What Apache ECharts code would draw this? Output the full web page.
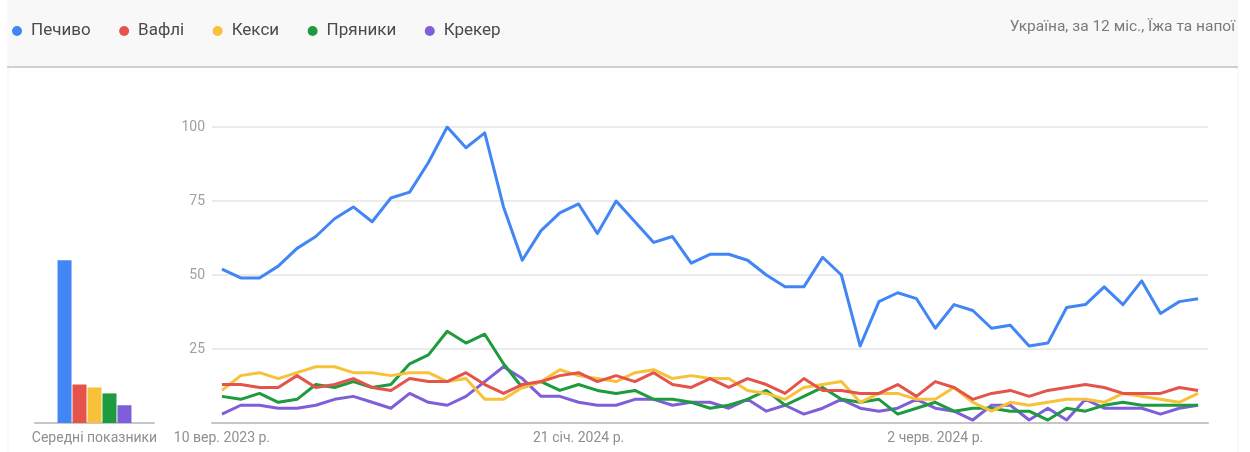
<!DOCTYPE html>
<html lang="uk">
<head>
<meta charset="utf-8">
<title>Печиво, Вафлі, Кекси, Пряники, Крекер</title>
<script src="https://cdn.jsdelivr.net/npm/echarts@6/dist/echarts.min.js"></script>
<style>
  html, body { margin: 0; padding: 0; background: #ffffff; }
  #chart { width: 1250px; height: 452px; }
</style>
</head>
<body>
<div id="chart"></div>
<script>
// Weekly interest, 53 weeks starting 10 Sep 2023
const seriesNames = ['Печиво', 'Вафлі', 'Кекси', 'Пряники', 'Крекер'];
const colors = ['#4285f4', '#e5544b', '#f7c13a', '#1d9b3e', '#7f5fd9'];

const pechyvo = [52,49,49,53,59,63,69,73,68,76,78,88,100,93,98,73,55,65,71,74,64,75,68,61,63,54,57,57,55,50,46,46,56,50,26,41,44,42,32,40,38,32,33,26,27,39,40,46,40,48,37,41,42];
const vafli = [13,13,12,12,16,12,13,15,12,11,15,14,14,17,13,10,13,14,16,17,14,16,14,17,13,12,15,12,15,13,10,15,11,11,10,10,13,9,14,12,8,10,11,9,11,12,13,12,10,10,10,12,11];
const keksy = [11,16,17,15,17,19,19,17,17,16,17,17,14,15,8,8,12,14,18,16,15,14,17,18,15,16,15,15,11,10,8,12,13,14,7,10,10,8,8,12,7,4,7,6,7,8,8,7,10,9,8,7,10];
const pryanyky = [9,8,10,7,8,13,12,14,12,13,20,23,31,27,30,20,12,14,11,13,11,10,11,8,8,7,5,6,8,11,6,9,12,8,7,8,3,5,7,4,5,5,4,4,1,5,4,6,7,6,6,6,6];
const kreker = [3,6,6,5,5,6,8,9,7,5,10,7,6,9,14,19,15,9,9,7,6,6,8,8,6,7,7,5,8,4,6,3,5,8,5,4,5,8,5,4,1,6,6,1,5,1,8,5,5,5,3,5,6];

// Period averages shown as bars
const averages = [55, 13, 12, 10, 6];
const averagesLabel = 'Середні показники';

// Date labels on the week axis
const tickWeeks = [0, 19, 38];
const tickLabels = ['10 вер. 2023 р.', '21 січ. 2024 р.', '2 черв. 2024 р.'];
const yTicks = [0, 25, 50, 75, 100];

const headerText = 'Україна, за 12 міс., Їжа та напої';

const allSeries = [pechyvo, vafli, keksy, pryanyky, kreker];
const fontFamily = 'Roboto, "Noto Sans", sans-serif';
const axisColor = '#c6c6c6';
const gridColor = '#ebebeb';
const labelColor = '#8f8f8f';

const chart = echarts.init(document.getElementById('chart'), null, { renderer: 'canvas' });

const lineSeries = allSeries.map((vals, i) => ({
  name: seriesNames[i],
  type: 'line',
  xAxisIndex: 0,
  yAxisIndex: 0,
  data: vals.map((v, w) => [w, v]),
  showSymbol: false,
  symbol: 'none',
  lineStyle: { width: 3, color: colors[i], join: 'round' },
  itemStyle: { color: colors[i] },
  z: 10 - i,
  animation: false
}));

const barSeries = averages.map((v, i) => ({
  name: seriesNames[i],
  type: 'bar',
  xAxisIndex: 1,
  yAxisIndex: 1,
  data: [v],
  barWidth: 14,
  barGap: '7%',
  itemStyle: { color: colors[i] },
  animation: false
}));

const option = {
  backgroundColor: '#ffffff',
  animation: false,
  textStyle: { fontFamily },
  graphic: [
    {
      type: 'rect', z: -10,
      shape: { x: 7, y: 0, width: 1231, height: 66 },
      style: { fill: '#f8f8f8' }
    },
    {
      type: 'line', z: -9,
      shape: { x1: 7, y1: 67, x2: 1238, y2: 67 },
      style: { stroke: '#d0d0d0', lineWidth: 2 }
    },
    {
      type: 'line', z: -9,
      shape: { x1: 8, y1: 68, x2: 8, y2: 452 },
      style: { stroke: '#f1f1f1', lineWidth: 1 }
    },
    {
      type: 'line', z: -9,
      shape: { x1: 1238, y1: 68, x2: 1238, y2: 452 },
      style: { stroke: '#f4f4f4', lineWidth: 1 }
    },
    {
      type: 'text',
      right: 15, top: 19,
      style: {
        text: headerText,
        fill: '#7a7a7a',
        font: '15.5px ' + fontFamily
      }
    }
  ],
  legend: {
    data: seriesNames,
    left: 7,
    top: 16,
    icon: 'circle',
    itemWidth: 18,
    itemHeight: 10,
    itemGap: 28.5,
    textStyle: { fontSize: 17, color: '#4a4a4a', fontFamily, lineHeight: 20 }
  },
  grid: [
    { left: 212, right: 42, top: 127, bottom: 29 },
    { left: 35, width: 119, top: 127, bottom: 29 }
  ],
  xAxis: [
    {
      type: 'value',
      gridIndex: 0,
      min: -0.53,
      max: 52.53,
      axisLine: { show: true, lineStyle: { color: axisColor, width: 2 } },
      axisTick: { show: false },
      splitLine: { show: false },
      axisLabel: {
        customValues: tickWeeks,
        formatter: (v) => tickLabels[tickWeeks.indexOf(Math.round(v))] || '',
        color: labelColor,
        fontSize: 14,
        margin: 8
      }
    },
    {
      type: 'category',
      gridIndex: 1,
      data: [averagesLabel],
      axisLine: { show: true, lineStyle: { color: axisColor, width: 2 } },
      axisTick: { show: false },
      axisLabel: { color: labelColor, fontSize: 14, margin: 8 }
    }
  ],
  yAxis: [
    {
      type: 'value',
      gridIndex: 0,
      min: 0,
      max: 100,
      interval: 25,
      axisLine: { show: false },
      axisTick: { show: false },
      splitLine: { show: true, lineStyle: { color: gridColor, width: 2 } },
      axisLabel: {
        customValues: yTicks.slice(1),
        color: '#a0a0a0',
        fontSize: 14,
        margin: 7
      }
    },
    {
      type: 'value',
      gridIndex: 1,
      min: 0,
      max: 100,
      show: false,
      splitLine: { show: false }
    }
  ],
  series: lineSeries.concat(barSeries)
};

chart.setOption(option);
</script>
</body>
</html>
